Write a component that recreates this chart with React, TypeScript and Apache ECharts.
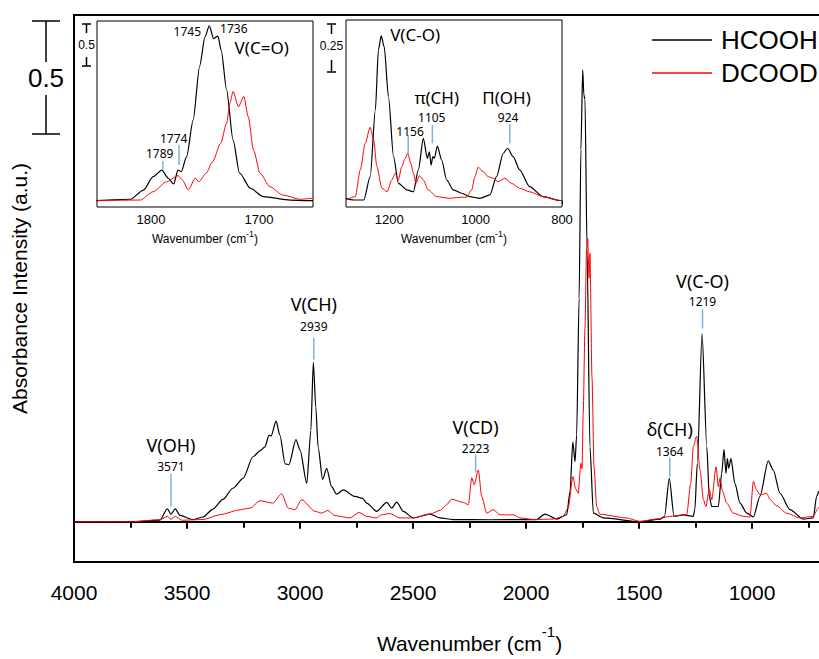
import React, { useEffect, useRef } from 'react';
import * as echarts from 'echarts';

// ---------- data (wavenumber cm-1, absorbance a.u.) ----------
const hcoohMain: [number, number][] = [
  [4000, 0], [3752, 0.0], [3620, 0.007], [3587, 0.057], [3571, 0.033], [3552, 0.057], [3531, 0.028],
  [3474, 0.01], [3429, 0.021], [3385, 0.056], [3341, 0.098], [3297, 0.147], [3252, 0.19], [3208, 0.285],
  [3177, 0.311], [3155, 0.328], [3137, 0.38], [3128, 0.376], [3106, 0.441], [3089, 0.38], [3066, 0.254],
  [3049, 0.25], [3018, 0.36], [3000, 0.315], [2970, 0.169], [2952, 0.4], [2941, 0.698], [2930, 0.5],
  [2920, 0.328], [2900, 0.186], [2882, 0.234], [2860, 0.154], [2838, 0.121], [2808, 0.14], [2757, 0.111],
  [2723, 0.103], [2705, 0.082], [2661, 0.046], [2616, 0.085], [2594, 0.06], [2572, 0.086], [2543, 0.046],
  [2499, 0.017], [2425, 0.034], [2380, 0.017], [2323, 0.01], [2159, 0.009], [1953, 0.01], [1916, 0.034],
  [1864, 0.012], [1820, 0.031], [1805, 0.133], [1793, 0.35], [1783, 0.263], [1776, 0.379], [1765, 0.98],
  [1757, 1.63], [1749, 1.98], [1744, 1.87], [1739, 1.85], [1730, 1.2], [1717, 0.328], [1702, 0.038],
  [1658, 0.017], [1496, 0.0], [1407, 0.012], [1387, 0.024], [1366, 0.19], [1345, 0.024], [1304, 0.03],
  [1260, 0.024], [1253, 0.053], [1242, 0.256], [1221, 0.824], [1200, 0.328], [1189, 0.111], [1178, 0.067],
  [1149, 0.067], [1134, 0.212], [1124, 0.317], [1115, 0.212], [1109, 0.277], [1103, 0.234], [1093, 0.277],
  [1076, 0.169], [1053, 0.082], [1023, 0.038], [994, 0.021], [965, 0.111], [928, 0.267], [906, 0.227],
  [876, 0.125], [832, 0.053], [773, 0.012], [729, 0.017], [714, 0.111], [704, 0.133], [690, 0.15],
];

const dcoodMain: [number, number][] = [
  [4000, 0], [3752, 0.0], [3620, 0.009], [3587, 0.024], [3571, 0.011], [3552, 0.024], [3522, 0.007],
  [3429, 0.01], [3354, 0.031], [3265, 0.053], [3221, 0.06], [3177, 0.092], [3121, 0.082], [3081, 0.123],
  [3052, 0.06], [3022, 0.053], [2993, 0.097], [2934, 0.046], [2904, 0.038], [2877, 0.05], [2845, 0.027],
  [2779, 0.017], [2738, 0.041], [2705, 0.024], [2661, 0.017], [2639, 0.031], [2602, 0.036], [2558, 0.017],
  [2499, 0.017], [2425, 0.034], [2380, 0.05], [2351, 0.075], [2329, 0.099], [2277, 0.085], [2255, 0.075],
  [2240, 0.193], [2229, 0.162], [2211, 0.227], [2196, 0.111], [2174, 0.038], [2145, 0.053], [2115, 0.031],
  [2088, 0.03], [2056, 0.031], [2027, 0.017], [1968, 0.01], [1879, 0.012], [1836, 0.024], [1814, 0.059],
  [1792, 0.198], [1781, 0.146], [1769, 0.125], [1757, 0.256], [1752, 0.233], [1747, 0.473], [1739, 0.85],
  [1732, 1.198], [1727, 1.241], [1721, 1.067], [1717, 1.176], [1708, 0.633], [1699, 0.241], [1687, 0.067],
  [1673, 0.033], [1555, 0.017], [1496, 0.002], [1422, 0.012], [1363, 0.024], [1289, 0.031], [1271, 0.169],
  [1260, 0.328], [1245, 0.375], [1230, 0.227], [1215, 0.097], [1204, 0.067], [1189, 0.143], [1178, 0.097],
  [1159, 0.241], [1149, 0.154], [1142, 0.19], [1130, 0.133], [1112, 0.082], [1083, 0.038], [1038, 0.024],
  [1009, 0.021], [994, 0.176], [980, 0.14], [965, 0.118], [935, 0.125], [920, 0.097], [891, 0.07],
  [847, 0.038], [788, 0.017], [729, 0.024], [707, 0.06], [690, 0.08],
];

// inset 1 : C=O stretch region
const hcoohInsetCO: [number, number][] = [
  [1851, 0], [1819, 0.017], [1807, 0.127], [1798, 0.286], [1790, 0.365], [1784, 0.267], [1779, 0.199],
  [1775, 0.365], [1772, 0.345], [1767, 0.524], [1761, 0.96], [1755, 1.6], [1750, 1.95], [1746, 2.08],
  [1742, 1.93], [1738, 1.96], [1735, 1.79], [1730, 1.32], [1724, 0.72], [1718, 0.33], [1708, 0.148],
  [1696, 0.048], [1671, 0.008], [1650, 0],
];
const dcoodInsetCO: [number, number][] = [
  [1851, 0], [1810, 0.008], [1798, 0.107], [1785.5, 0.226], [1775, 0.298], [1771, 0.246], [1765.5, 0.127],
  [1759, 0.267], [1755.6, 0.226], [1749, 0.326], [1743, 0.464], [1735.5, 0.683], [1730, 0.92], [1727, 1.16],
  [1724, 1.3], [1719, 1.12], [1714, 1.24], [1710, 1.0], [1705, 0.6], [1699, 0.326], [1690, 0.167],
  [1678, 0.068], [1662, 0.017], [1650, 0.03],
];

// inset 2 : C-O stretch / bending region
const hcoohInsetLow: [number, number][] = [
  [1300, 0.013], [1282.5, 0.003], [1259, 0.003], [1244, 0.142], [1232, 0.539], [1225, 0.896], [1218.5, 0.979],
  [1211.6, 0.915], [1201.7, 0.618], [1190, 0.261], [1178.6, 0.102], [1159, 0.063], [1144, 0.052],
  [1132.5, 0.182], [1121, 0.37], [1111.7, 0.251], [1107, 0.29], [1103, 0.211], [1099, 0.261], [1095.5, 0.251],
  [1088.6, 0.324], [1078.5, 0.241], [1067, 0.122], [1051.6, 0.063], [1032, 0.043], [1013, 0.023], [990, 0.013],
  [967, 0.033], [951.5, 0.142], [936, 0.281], [926, 0.311], [913, 0.261], [898, 0.182], [875, 0.082],
  [844, 0.023], [805, 0.0], [800, 0.0],
];
const dcoodInsetLow: [number, number][] = [
  [1300, 0.003], [1278.5, 0.023], [1267, 0.182], [1255.5, 0.34], [1244, 0.436], [1236, 0.36], [1228.5, 0.201],
  [1217, 0.073], [1205, 0.052], [1194, 0.122], [1186, 0.162], [1179, 0.122], [1171, 0.201], [1163, 0.251],
  [1157, 0.281], [1150, 0.221], [1144, 0.162], [1138, 0.102], [1130, 0.148], [1121, 0.122], [1109.5, 0.063],
  [1090, 0.023], [1059.5, 0.013], [1040, 0.018], [1021, 0.02], [1009, 0.063], [1001.6, 0.142], [994, 0.198],
  [982.5, 0.172], [971, 0.142], [959.6, 0.132], [948, 0.112], [932.4, 0.132], [917, 0.102], [898, 0.073],
  [875, 0.052], [844, 0.023], [805, 0.0], [800, 0.0],
];

const seriesNames = ['HCOOH', 'DCOOD'];
const mainTickLabels = [4000, 3500, 3000, 2500, 2000, 1500, 1000];
const inset1TickLabels = [1800, 1700];
const inset2TickLabels = [1200, 1000, 800];

// annotation texts: axis pair index, text, wavenumber, value
const annoTexts = [
  { ax: 0, text: 'V(OH)', wn: 3571, v: 0.335, size: 18, align: 'center' },
  { ax: 0, text: '3571', wn: 3571, v: 0.244, size: 12, align: 'center' },
  { ax: 0, text: 'V(CH)', wn: 2939, v: 0.955, size: 18, align: 'center' },
  { ax: 0, text: '2939', wn: 2939, v: 0.857, size: 12, align: 'center' },
  { ax: 0, text: 'V(CD)', wn: 2223, v: 0.416, size: 18, align: 'center' },
  { ax: 0, text: '2223', wn: 2223, v: 0.323, size: 12, align: 'center' },
  { ax: 0, text: 'δ(CH)', wn: 1364, v: 0.407, size: 18, align: 'center' },
  { ax: 0, text: '1364', wn: 1364, v: 0.309, size: 12, align: 'center' },
  { ax: 0, text: 'V(C-O)', wn: 1219, v: 1.055, size: 18, align: 'center' },
  { ax: 0, text: '1219', wn: 1219, v: 0.964, size: 12, align: 'center' },
  { ax: 1, text: '1789', wn: 1792, v: 0.564, size: 12, align: 'center' },
  { ax: 1, text: '1774', wn: 1779, v: 0.743, size: 12, align: 'center' },
  { ax: 1, text: '1745', wn: 1753.7, v: 2.012, size: 12, align: 'right' },
  { ax: 1, text: '1736', wn: 1736, v: 2.05, size: 12, align: 'left' },
  { ax: 1, text: 'V(C=O)', wn: 1697.5, v: 1.82, size: 17, align: 'center' },
  { ax: 2, text: 'V(C-O)', wn: 1197.8, v: 0.985, size: 17, align: 'left' },
  { ax: 2, text: 'π(CH)', wn: 1090, v: 0.613, size: 17, align: 'center' },
  { ax: 2, text: '1105', wn: 1101.5, v: 0.495, size: 12, align: 'center' },
  { ax: 2, text: '1156', wn: 1151.6, v: 0.413, size: 12, align: 'center' },
  { ax: 2, text: 'Π(OH)', wn: 928.4, v: 0.613, size: 17, align: 'center' },
  { ax: 2, text: '924', wn: 924.7, v: 0.495, size: 12, align: 'center' },
];
const annoLines = [
  { ax: 0, wn: 3571, v1: 0.211, v2: 0.067 },
  { ax: 0, wn: 2939, v1: 0.806, v2: 0.711 },
  { ax: 0, wn: 2223, v1: 0.295, v2: 0.215 },
  { ax: 0, wn: 1364, v1: 0.28, v2: 0.198 },
  { ax: 0, wn: 1219, v1: 0.93, v2: 0.846 },
  { ax: 1, wn: 1789, v1: 0.473, v2: 0.374 },
  { ax: 1, wn: 1774, v1: 0.663, v2: 0.425 },
  { ax: 2, wn: 1100, v1: 0.449, v2: 0.34 },
  { ax: 2, wn: 1156, v1: 0.39, v2: 0.281 },
  { ax: 2, wn: 921, v1: 0.454, v2: 0.34 },
];

const AX_FONT = '"Liberation Sans", Arial, sans-serif';
const ANNO_FONT = '"Noto Sans", "Open Sans", sans-serif';
const BLUE = '#7eb2e0';

const wnName = (size: number, sup: number, lh: number) => ({
  text: '{a|Wavenumber (cm}{b|-1}{a|)}',
  rich: {
    a: { fontSize: size, lineHeight: lh, fontFamily: AX_FONT, color: '#000', verticalAlign: 'bottom' },
    b: { fontSize: sup, lineHeight: sup, fontFamily: AX_FONT, color: '#000', verticalAlign: 'top' },
  },
});

const plain = (v: number) => String(v);

const lineSeries = (name: string, data: [number, number][], color: string, width: number, idx: number, yIdx: number) => ({
  name,
  type: 'line',
  data,
  xAxisIndex: idx,
  yAxisIndex: yIdx,
  showSymbol: false,
  symbol: 'none',
  smooth: 0.25,
  smoothMonotone: 'x',
  lineStyle: { color, width },
  itemStyle: { color },
  z: 3,
  silent: true,
});

export default function App() {
  const ref = useRef<HTMLDivElement>(null);
  useEffect(() => {
    if (!ref.current) return;
    const chart = echarts.init(ref.current, undefined, { renderer: 'svg' });
    const n1 = wnName(21, 15, 30);
    const n2 = wnName(12, 9, 16);
    const inset1YMin = -0.075, inset1YMax = 2.139;
    const inset2YMin = -0.0387, inset2YMax = 1.074;
    const inset1Ticks = [0, 0.267, 0.533, 0.8, 1.067, 1.333, 1.6, 1.867, 2.133];
    const inset2Ticks = [1, 2, 3, 4, 5, 6, 7, 8, 9].map((k) => inset2YMin + k * 0.1113);
    chart.setOption({
      animation: false,
      backgroundColor: '#fff',
      grid: [
        { left: 74, top: 15, width: 791, height: 551, show: true, borderColor: '#000', borderWidth: 2, backgroundColor: 'transparent', z: 1 },
        { left: 97, top: 21, width: 216, height: 186, show: true, borderColor: '#000', borderWidth: 1, backgroundColor: '#fff', z: 2 },
        { left: 346, top: 20, width: 216, height: 187, show: true, borderColor: '#000', borderWidth: 1, backgroundColor: '#fff', z: 2 },
      ],
      legend: {
        data: seriesNames.map((name) => ({ name, icon: 'rect' })),
        orient: 'vertical',
        left: 647,
        top: 22,
        itemWidth: 60,
        itemHeight: 1.4,
        itemGap: 7,
        itemStyle: { borderWidth: 0 },
        textStyle: { fontSize: 26, lineHeight: 26, fontFamily: AX_FONT, color: '#000', padding: [0, 0, 0, 4] },
      },
      xAxis: [
        {
          type: 'value', gridIndex: 0, min: 500, max: 4000, interval: 500, inverse: true,
          axisLine: { show: true, lineStyle: { color: '#000', width: 2 } },
          axisTick: { show: true, inside: false, length: 7, lineStyle: { color: '#000', width: 2 } },
          minorTick: { show: true, splitNumber: 2, length: 6, lineStyle: { color: '#000', width: 2 } },
          axisLabel: { customValues: mainTickLabels, formatter: plain, fontSize: 21, fontFamily: AX_FONT, color: '#000', margin: 20 },
          splitLine: { show: false },
          name: n1.text, nameLocation: 'middle', nameGap: 62,
          nameTextStyle: { rich: n1.rich },
        },
        {
          type: 'value', gridIndex: 1, min: 1650, max: 1850, inverse: true,
          axisLine: { show: false },
          axisTick: { show: true, customValues: inset1TickLabels, length: 4, lineStyle: { color: '#000' } },
          axisLabel: { customValues: inset1TickLabels, formatter: plain, fontSize: 13, fontFamily: AX_FONT, color: '#000', margin: 6 },
          splitLine: { show: false },
          name: n2.text, nameLocation: 'middle', nameGap: 22,
          nameTextStyle: { rich: n2.rich },
        },
        {
          type: 'value', gridIndex: 2, min: 800, max: 1300, inverse: true,
          axisLine: { show: false },
          axisTick: { show: true, customValues: inset2TickLabels, length: 4, lineStyle: { color: '#000' } },
          axisLabel: { customValues: inset2TickLabels, formatter: plain, fontSize: 13, fontFamily: AX_FONT, color: '#000', margin: 6 },
          splitLine: { show: false },
          name: n2.text, nameLocation: 'middle', nameGap: 22,
          nameTextStyle: { rich: n2.rich },
        },
      ],
      yAxis: [
        {
          type: 'value', gridIndex: 0, min: -0.176, max: 2.2196,
          axisLine: { show: true, lineStyle: { color: '#000', width: 2 } },
          axisTick: { show: false }, axisLabel: { show: false }, splitLine: { show: false },
          name: 'Absorbance Intensity (a.u.)', nameLocation: 'middle', nameGap: 44, nameRotate: 90,
          nameTextStyle: { fontSize: 21, fontFamily: AX_FONT, color: '#000' },
        },
        {
          type: 'value', gridIndex: 1, min: inset1YMin, max: inset1YMax,
          axisLine: { show: false }, axisTick: { show: false }, axisLabel: { show: false }, splitLine: { show: false },
        },
        {
          type: 'value', gridIndex: 2, min: inset2YMin, max: inset2YMax,
          axisLine: { show: false }, axisTick: { show: false }, axisLabel: { show: false }, splitLine: { show: false },
        },
        {
          type: 'value', gridIndex: 1, position: 'right', min: inset1YMin, max: inset1YMax,
          axisLine: { show: false },
          axisTick: { show: true, inside: true, length: 4, customValues: inset1Ticks, lineStyle: { color: '#444' } },
          axisLabel: { show: false }, splitLine: { show: false },
        },
        {
          type: 'value', gridIndex: 2, position: 'right', min: inset2YMin, max: inset2YMax,
          axisLine: { show: false },
          axisTick: { show: true, inside: true, length: 4, customValues: inset2Ticks, lineStyle: { color: '#444' } },
          axisLabel: { show: false }, splitLine: { show: false },
        },
      ],
      series: [
        lineSeries(seriesNames[0], hcoohMain, '#000000', 1.2, 0, 0),
        lineSeries(seriesNames[1], dcoodMain, '#ff0000', 1, 0, 0),
        lineSeries('HCOOH C=O', hcoohInsetCO, '#000000', 1.2, 1, 1),
        lineSeries('DCOOD C=O', dcoodInsetCO, '#ff0000', 1, 1, 1),
        lineSeries('HCOOH C-O', hcoohInsetLow, '#000000', 1.2, 2, 2),
        lineSeries('DCOOD C-O', dcoodInsetLow, '#ff0000', 1, 2, 2),
      ],
    });

    const toPx = (ax: number, wn: number, v: number) =>
      chart.convertToPixel({ xAxisIndex: ax, yAxisIndex: ax }, [wn, v]) as number[];

    const graphics: any[] = [];
    annoLines.forEach((l) => {
      const p1 = toPx(l.ax, l.wn, l.v1);
      const p2 = toPx(l.ax, l.wn, l.v2);
      graphics.push({
        type: 'line', z: 10, silent: true,
        shape: { x1: p1[0], y1: p1[1], x2: p2[0], y2: p2[1] },
        style: { stroke: BLUE, lineWidth: 1.5 },
      });
    });
    annoTexts.forEach((t) => {
      const p = toPx(t.ax, t.wn, t.v);
      graphics.push({
        type: 'text', z: 10, silent: true, x: p[0], y: p[1],
        style: { text: t.text, fontSize: t.size, lineHeight: t.size, fontFamily: ANNO_FONT, fill: '#000', align: t.align, verticalAlign: 'middle' },
      });
    });
    // scale bars
    const bar = (cx: number, y1: number, y2: number, half: number, g1: number, g2: number, label: string, size: number, ty: number) => {
      graphics.push(
        { type: 'line', z: 10, shape: { x1: cx - half, y1, x2: cx + half, y2: y1 }, style: { stroke: '#000', lineWidth: 1.5 } },
        { type: 'line', z: 10, shape: { x1: cx - half, y1: y2, x2: cx + half, y2 }, style: { stroke: '#000', lineWidth: 1.5 } },
        { type: 'line', z: 10, shape: { x1: cx, y1, x2: cx, y2: g1 }, style: { stroke: '#000', lineWidth: 1.5 } },
        { type: 'line', z: 10, shape: { x1: cx, y1: g2, x2: cx, y2 }, style: { stroke: '#000', lineWidth: 1.5 } },
        { type: 'text', z: 10, x: cx, y: ty, style: { text: label, fontSize: size, lineHeight: size, fontFamily: AX_FONT, fill: '#000', align: 'center', verticalAlign: 'middle' } },
      );
    };
    bar(46, 21, 134, 14, 62, 95, '0.5', 26, 78);
    bar(86.5, 24, 66, 4.5, 33, 57, '0.5', 12, 45);
    bar(331.5, 24, 72, 4.5, 34, 60, '0.25', 12, 46);
    chart.setOption({ graphic: graphics });

    return () => chart.dispose();
  }, []);

  return (
    <div style={{ position: 'absolute', left: 0, top: 0, width: 819, height: 659, overflow: 'hidden', background: '#fff' }}>
      <div ref={ref} style={{ width: 900, height: 659 }} />
    </div>
  );
}
